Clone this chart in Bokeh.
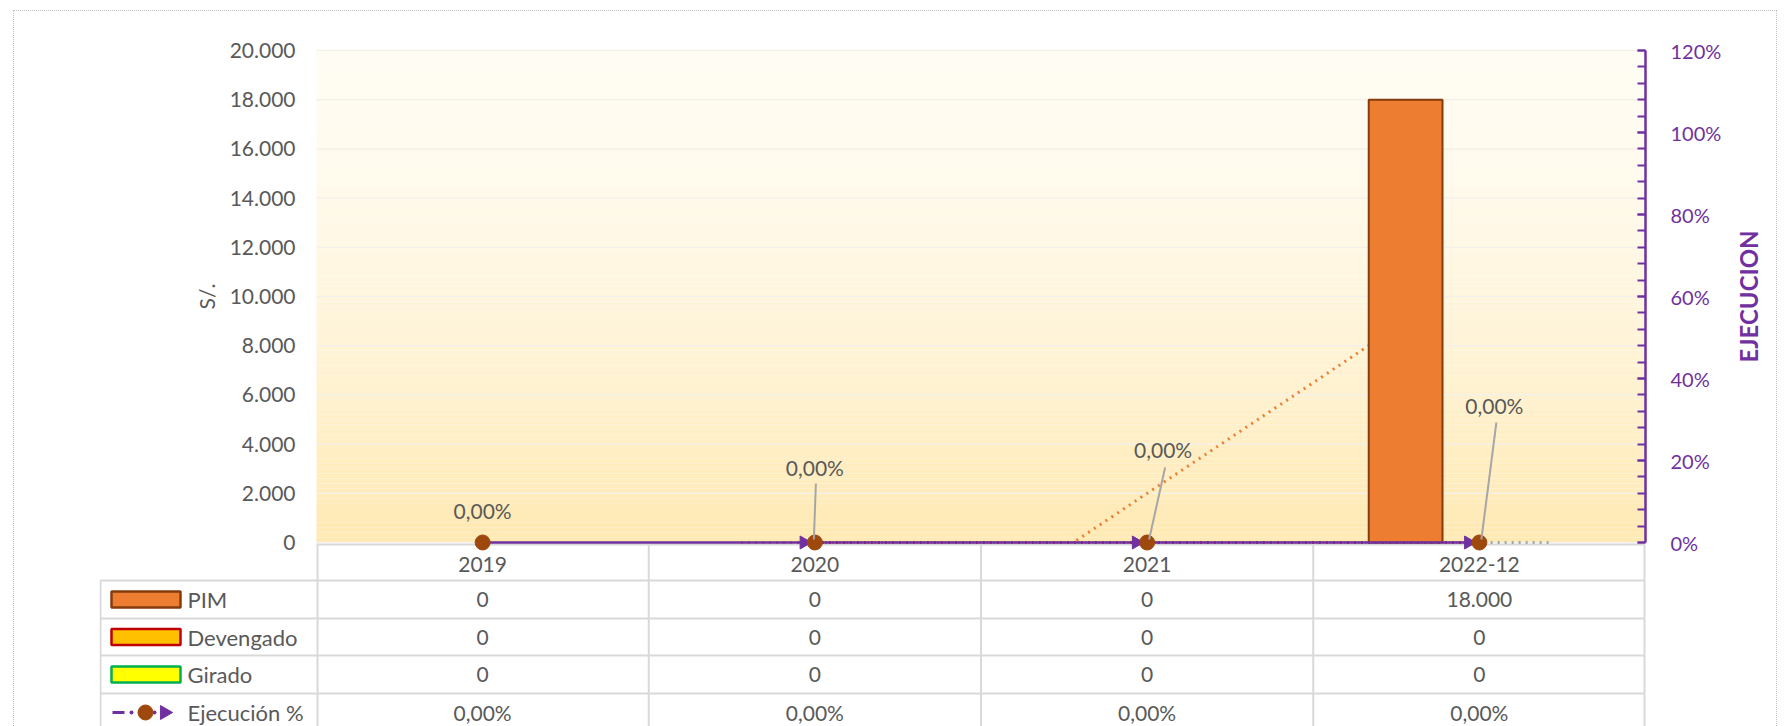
import numpy as np
from bokeh.plotting import figure
from bokeh.layouts import column
from bokeh.models import (Range1d, LinearAxis, FixedTicker,
                          CustomJSTickFormatter, ColumnDataSource)
from bokeh.core.properties import value
from bokeh.embed import file_html
from bokeh.resources import INLINE

# ---------------- data ----------------
categories = ["2019", "2020", "2021", "2022-12"]
pim = [0, 0, 0, 18000]
devengado = [0, 0, 0, 0]
girado = [0, 0, 0, 0]
ejecucion = [0.0, 0.0, 0.0, 0.0]          # fraction (0.0 = 0,00%)
series_names = ["PIM", "Devengado", "Girado", "Ejecución %"]
y_left_max = 20000
y_left_step = 2000
y_right_max = 1.2
y_right_step = 0.2

# ---------------- styles / layout (page pixels) ----------------
FONT = "Lato"
TXT = "#595959"
PURPLE = "#7030A0"
BROWN = "#9E480E"
GRID = "#D9D9D9"
bar_fill = ["#ED7D31", "#FFC000", "#FFFF00"]
bar_line = ["#843C0C", "#C00000", "#00B050"]
trend_color = ["#ED7D31", "#C00000", "#A6A6A6"]
BAR_W = 0.222
bar_offsets = [-BAR_W, 0.0, BAR_W]

ORX, ORY = 14, 11            # page position of the canvas
W, H = 1762, 715
PLOT_L, PLOT_R, PLOT_T, ZERO = 316, 1645, 50, 542
FRAME_T = 20
TABLE_L = 99
TITLE_AX_X = 1764            # where the right-hand title is anchored
row_px = [542, 580, 618, 655, 693, 731]     # table row boundaries

n = len(categories)
xc = [i + 0.5 for i in range(n)]
PX = (PLOT_R - PLOT_L) / n                  # px per category
PYL = (ZERO - PLOT_T) / y_left_max          # px per S/.
PYR = (ZERO - PLOT_T) / y_right_max         # px per pct unit
BOTTOM = ORY + H
RIGHT = ORX + W


def xd(px):
    return (px - PLOT_L) / PX


def yd(px):
    return (ZERO - px) / PYL


# data-label placement (screen px offsets from each point)
label_dx = [0, 0, 16, 15]
label_dy = [-32, -75, -93, -137]
leader_top = [None, (1, -59), (18, -75), (17, -120)]
leader_bot = [None, (-1, -3), (2, -3), (2, -3)]


def thousands(v):
    return f"{v:,.0f}".replace(",", ".")


def pct(v):
    return f"{v*100:.2f}%".replace(".", ",")


p = figure(width=W, height=H,
           x_range=Range1d(xd(TABLE_L), xd(RIGHT)),
           y_range=Range1d(yd(BOTTOM), yd(FRAME_T)),
           min_border_left=TABLE_L - ORX, min_border_right=0,
           min_border_top=FRAME_T - ORY, min_border_bottom=0,
           x_axis_location=None, y_axis_location="left",
           output_backend="svg", toolbar_location=None)
p.outline_line_color = None
p.background_fill_color = "white"
p.border_fill_color = "white"
p.grid.visible = False
p.extra_y_ranges = {"pct": Range1d(-(BOTTOM - ZERO) / PYR, (ZERO - FRAME_T) / PYR)}

# plot-area vertical gradient
top_rgb = np.array([255, 252, 243])
bot_rgb = np.array([255, 233, 178])
ns = 100
edges = np.linspace(0, y_left_max, ns + 1)
cols = []
for k in range(ns):
    tt = (k + 0.5) / ns
    c = top_rgb + (bot_rgb - top_rgb) * (1 - tt) ** 1.6
    cols.append("#%02x%02x%02x" % tuple(int(round(v)) for v in c))
p.quad(left=0, right=n, bottom=edges[:-1], top=edges[1:],
       fill_color=cols, line_color=None)

# horizontal gridlines
left_ticks = list(range(0, y_left_max + 1, y_left_step))
p.segment([0] * len(left_ticks), left_ticks, [n] * len(left_ticks), left_ticks,
          line_color="#F4F1EA", line_width=1.5)

# left axis (S/.)
ax = p.yaxis[0]
ax.fixed_location = 0
ax.bounds = (0, y_left_max)
ax.ticker = FixedTicker(ticks=left_ticks, minor_ticks=[])
ax.formatter = CustomJSTickFormatter(
    code="return tick.toFixed(0).replace(/\\B(?=(\\d{3})+(?!\\d))/g, '.');")
ax.axis_line_color = None
ax.major_tick_line_color = None
ax.minor_tick_line_color = None
ax.major_label_standoff = 15
ax.major_label_text_font = FONT
ax.major_label_text_font_size = "21px"
ax.major_label_text_color = TXT
ax.axis_label = "S/."
ax.axis_label_text_font = FONT
ax.axis_label_text_font_size = "21px"
ax.axis_label_text_font_style = "normal"
ax.axis_label_text_color = TXT
ax.axis_label_standoff = 8

# right axis (Ejecución %), drawn at the right edge of the plot area
r_ticks = [round(k * y_right_step, 6) for k in range(int(round(y_right_max / y_right_step)) + 1)]
r_minor = [round(k * y_right_step / 5, 6) for k in range(int(round(y_right_max / y_right_step)) * 5 + 1)]
rax = LinearAxis(y_range_name="pct", bounds=(0, y_right_max), fixed_location=n,
                 ticker=FixedTicker(ticks=r_ticks, minor_ticks=r_minor),
                 formatter=CustomJSTickFormatter(code="return Math.round(tick*100) + '%';"))
rax.axis_line_color = PURPLE
rax.axis_line_width = 2.5
rax.major_tick_in = 8
rax.major_tick_out = 0
rax.minor_tick_in = 8
rax.minor_tick_out = 0
rax.major_tick_line_color = PURPLE
rax.major_tick_line_width = 2
rax.minor_tick_line_color = PURPLE
rax.minor_tick_line_width = 2
rax.major_label_standoff = 25
rax.major_label_text_font = FONT
rax.major_label_text_font_size = "20px"
rax.major_label_text_color = PURPLE
p.add_layout(rax, "right")

# title of the right axis, reading bottom-to-top
tax = LinearAxis(y_range_name="pct", bounds=(0, y_right_max), fixed_location=xd(TITLE_AX_X),
                 ticker=FixedTicker(ticks=[], minor_ticks=[]))
tax.axis_line_color = None
tax.major_tick_line_color = None
tax.minor_tick_line_color = None
tax.major_tick_out = 0
tax.axis_label = "EJECUCION"
tax.axis_label_text_font = FONT
tax.axis_label_text_font_size = "24px"
tax.axis_label_text_font_style = "bold"
tax.axis_label_text_color = PURPLE
tax.axis_label_standoff = 2
p.add_layout(tax, "left")

# category axis (header row of the data table)
xax = LinearAxis(fixed_location=0, bounds=(0, n),
                 ticker=FixedTicker(ticks=xc, minor_ticks=[]),
                 formatter=CustomJSTickFormatter(args=dict(cats=categories),
                                                 code="return cats[Math.floor(tick)];"))
xax.axis_line_color = None
xax.major_tick_line_color = None
xax.minor_tick_line_color = None
xax.major_label_standoff = 8
xax.major_label_text_font = FONT
xax.major_label_text_font_size = "21px"
xax.major_label_text_color = TXT
p.add_layout(xax, "below")

# ---------------- data table lines ----------------
hx0 = [0] + [xd(TABLE_L + 1)] * 4
hx1 = [xd(PLOT_R - 1)] * 5
hy = [yd(544)] + [yd(v) for v in row_px[1:5]]
p.segment(hx0, hy, hx1, hy, line_color=GRID, line_width=2)
vx = [xd(PLOT_L + 1)] + [i for i in range(1, n)] + [xd(PLOT_R - 1), xd(TABLE_L + 1)]
vy0 = [yd(544)] * (n + 1) + [yd(row_px[1])]
vy1 = [yd(BOTTOM)] * (n + 2)
p.segment(vx, vy0, vx, vy1, line_color=GRID, line_width=2)

# moving-average (2 periods) trendlines, under the bars
for vals, off, col in zip([pim, devengado, girado], bar_offsets, trend_color):
    tx = [xc[i] + off for i in range(1, n)]
    ty = [(vals[i - 1] + vals[i]) / 2 for i in range(1, n)]
    p.line(tx, ty, line_color=col, line_width=3, line_dash="2 5")

# bars
for vals, off, fc, lc in zip([pim, devengado, girado], bar_offsets, bar_fill, bar_line):
    src = ColumnDataSource(dict(x=[x + off for x in xc], top=vals,
                                la=[1.0 if v > 0 else 0.0 for v in vals]))
    p.vbar(x="x", top="top", bottom=0, width=BAR_W, source=src,
           fill_color=fc, line_color=lc, line_width=2, line_alpha="la")

# Ejecución % line
p.line(xc, ejecucion, y_range_name="pct", line_color=PURPLE, line_width=2.5)
p.scatter([x - 11 / PX for x in xc[1:]], ejecucion[1:], y_range_name="pct",
          marker="triangle", angle=-np.pi / 2, size=13,
          fill_color=PURPLE, line_color=PURPLE)
p.scatter(xc, ejecucion, y_range_name="pct", marker="circle", size=15,
          fill_color=BROWN, line_color=BROWN)

# leader lines and data labels
lx0, ly0, lx1, ly1 = [], [], [], []
for i in range(n):
    if leader_top[i] is None:
        continue
    (a0, b0), (a1, b1) = leader_top[i], leader_bot[i]
    lx0.append(xc[i] + a0 / PX); ly0.append(ejecucion[i] - b0 / PYR)
    lx1.append(xc[i] + a1 / PX); ly1.append(ejecucion[i] - b1 / PYR)
p.segment(lx0, ly0, lx1, ly1, y_range_name="pct", line_color="#A6A6A6", line_width=2)
p.text(xc, ejecucion, text=[pct(v) for v in ejecucion], y_range_name="pct",
       x_offset=label_dx, y_offset=label_dy,
       text_align="center", text_baseline="middle",
       text_font=value(FONT), text_font_size="21px", text_color=TXT)

# ---------------- data table texts ----------------
row_mid = [yd((row_px[k] + row_px[k + 1]) / 2) for k in range(5)]
txt_kw = dict(text_align="center", text_baseline="middle",
              text_font=value(FONT), text_font_size="21px", text_color=TXT)
rows = [[thousands(v) for v in pim], [thousands(v) for v in devengado],
        [thousands(v) for v in girado], [pct(v) for v in ejecucion]]
for k, r in enumerate(rows):
    p.text(xc, [row_mid[k + 1]] * n, text=r, **txt_kw)

# legend column
half = 8 / PYL
p.quad(left=[xd(111)] * 3, right=[xd(180)] * 3,
       top=[row_mid[k] + half for k in range(1, 4)],
       bottom=[row_mid[k] - half for k in range(1, 4)],
       fill_color=bar_fill, line_color=bar_line, line_width=2.5)
p.text([xd(187)] * 4, row_mid[1:5], text=series_names,
       text_align="left", text_baseline="middle",
       text_font=value(FONT), text_font_size="22px", text_color=TXT)
ym = row_mid[4]
p.segment([xd(112)], [ym], [xd(124)], [ym], line_color=PURPLE, line_width=3)
p.scatter([xd(131), xd(154)], [ym, ym], marker="circle",
          size=4, fill_color=PURPLE, line_color=None)
p.scatter([xd(145)], [ym], marker="circle", size=15,
          fill_color=BROWN, line_color=BROWN)
p.scatter([xd(164)], [ym], marker="triangle", angle=-np.pi / 2, size=14,
          fill_color=PURPLE, line_color=PURPLE)

layout = column(p, margin=(10, 0, 0, 13),
                styles={"border-top": "1px dotted #C4C4C4",
                        "border-left": "1px dotted #C4C4C4",
                        "border-right": "1px dotted #C4C4C4"})

open("out.html", "w").write(file_html(layout, INLINE))
